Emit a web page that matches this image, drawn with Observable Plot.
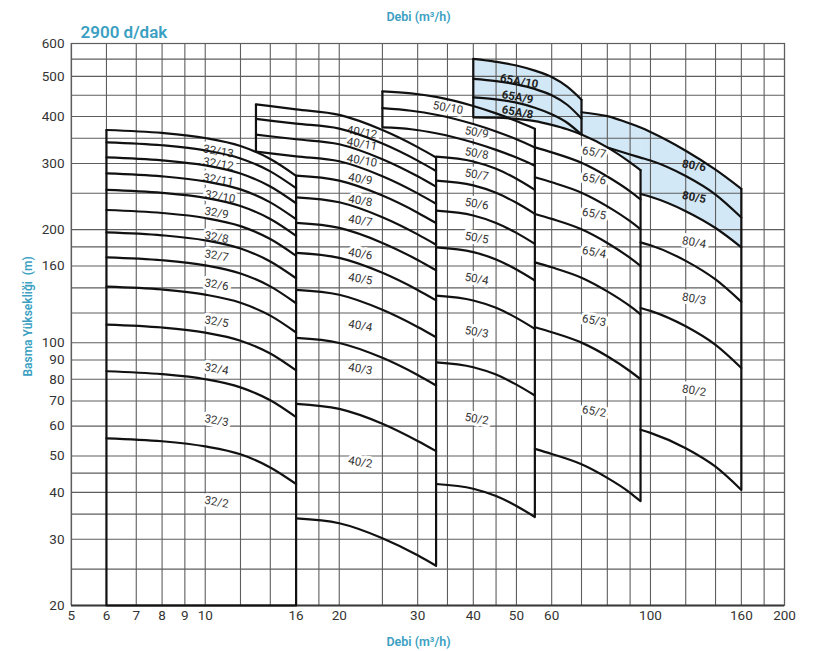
<!DOCTYPE html>
<html><head><meta charset="utf-8">
<script src="https://cdn.jsdelivr.net/npm/d3@7"></script>
<script src="https://cdn.jsdelivr.net/npm/@observablehq/plot@0.6"></script>
<style>body{margin:0;background:#fff}</style>
</head><body><div id="chart"></div>
<script>
// Axis ticks & grid
const xTicks = [5, 6, 7, 8, 9, 10, 16, 20, 30, 40, 50, 60, 100, 160, 200];
const yTicks = [20, 30, 40, 50, 60, 70, 80, 90, 100, 160, 200, 300, 400, 500, 600];
const xGrid = [5, 6, 7, 8, 9, 10, 12, 14, 16, 18, 20, 25, 30, 35, 40, 45, 50, 60, 70, 80, 90, 100, 120, 140, 160, 180, 200];
const yGrid = [20, 25, 30, 35, 40, 45, 50, 60, 70, 80, 90, 100, 120, 140, 160, 180, 200, 250, 300, 350, 400, 450, 500, 550, 600];

// Family 32
const x32 = [6, 8, 10, 12, 14, 16];
const n32 = ["32/base", "32/2", "32/3", "32/4", "32/5", "32/6", "32/7", "32/8", "32/9", "32/10", "32/11", "32/12", "32/13"];
const h32 = [
  [20, null, null, null, null, 20],
  [55.7, 54.7, 53.0, 50.5, 46.6, 42.1],
  [84.0, 82.5, 80.0, 76.1, 70.3, 63.4],
  [111.8, 109.8, 106.4, 101.3, 93.6, 84.4],
  [141.1, 138.6, 134.3, 127.8, 118.1, 106.5],
  [168.8, 165.8, 160.7, 152.9, 141.3, 127.4],
  [196.7, 193.2, 187.3, 178.2, 164.6, 148.5],
  [225.6, 221.5, 214.8, 204.4, 188.8, 170.3],
  [255.1, 250.5, 242.9, 231.1, 213.5, 192.6],
  [282.4, 277.3, 268.8, 255.9, 236.4, 213.2],
  [311.4, 305.8, 296.5, 282.1, 260.6, 235.1],
  [341.5, 335.4, 325.1, 309.4, 285.8, 257.8],
  [368.3, 361.7, 350.6, 333.7, 308.3, 278.1]
];

// Family 40
const x40 = [13, 16, 20, 25, 30, 33];
const n40 = ["40/1", "40/2", "40/3", "40/4", "40/5", "40/6", "40/7", "40/8", "40/9", "40/10", "40/11", "40/12"];
const h40 = [
  [null, 34.1, 33.1, 30.2, 27.2, 25.5],
  [null, 68.8, 66.7, 60.9, 54.8, 51.5],
  [null, 103.0, 99.9, 91.2, 82.1, 77.0],
  [null, 138.3, 134.2, 122.4, 110.2, 103.5],
  [null, 173.4, 168.2, 153.5, 138.2, 129.7],
  [null, 208.4, 202.1, 184.4, 166.1, 155.9],
  [null, 243.8, 236.5, 215.8, 194.3, 182.4],
  [null, 278.4, 270.0, 246.4, 221.9, 208.2],
  [322.4, 313.4, 304.0, 277.4, 249.8, 234.4],
  [357.8, 347.9, 337.5, 307.9, 277.3, 260.2],
  [394.0, 383.0, 371.5, 339.0, 305.3, 286.5],
  [428.0, 416.1, 403.6, 368.2, 331.6, 311.2]
];

// Family 50
const x50 = [25, 29, 33, 40, 45, 50, 55];
const n50 = ["50/1", "50/2", "50/3", "50/4", "50/5", "50/6", "50/7", "50/8", "50/9", "50/10"];
const h50 = [
  [null, null, 42.1, 40.9, 39.1, 36.8, 34.4],
  [null, null, 88.7, 86.1, 82.3, 77.4, 72.4],
  [null, null, 133.5, 129.6, 123.9, 116.5, 108.9],
  [null, null, 179.5, 174.3, 166.6, 156.7, 146.5],
  [null, null, 224.6, 218.1, 208.4, 196.1, 183.3],
  [null, null, 270.0, 262.2, 250.6, 235.7, 220.3],
  [null, null, 312.8, 303.7, 290.3, 273.1, 255.2],
  [374, 370, 361, 341, 326, 311, 296],
  [419, 413, 404, 382, 365, 348, 331],
  [460, 455, 446, 424, 407, 389, 371]
];

// Family 65
const x65 = [55, 60, 70, 80, 90, 95];
const n65 = ["65/1", "65/2", "65/3", "65/4", "65/5", "65/6"];
const h65 = [
  [52.2, 50.6, 47.5, 43.7, 39.9, 37.9],
  [110.0, 106.7, 100.1, 92.1, 84.0, 80.0],
  [163.7, 158.8, 149.0, 137.0, 125.1, 119.0],
  [220.2, 213.6, 200.4, 184.3, 168.2, 160.1],
  [275.6, 267.3, 250.8, 230.7, 210.6, 200.4],
  [331.0, 321.1, 301.2, 277.0, 252.9, 240.6]
];
const x657 = [40, 45, 50, 55, 60, 65, 70, 80, 90, 95];
const h657 = [398, 397, 394, 389, 380, 370, 358, 331, 302, 288];

// Family 65A (shaded)
const x65A = [40, 45, 50, 55, 60, 65, 70];
const n65A = ["65A/8", "65A/9", "65A/10"];
const h65A = [
  [445, 440, 432, 420, 405, 385, 358],
  [493, 487, 478, 466, 450, 427, 395],
  [551, 542, 531, 516, 498, 472, 439]
];

// Family 80
const x80 = [70, 80, 90, 95, 100, 120, 140, 160];
const n80 = ["80/1", "80/2", "80/3", "80/4", "80/5", "80/6"];
const h80 = [
  [null, null, null, 58.7, 57.6, 52.4, 46.8, 40.6],
  [null, null, null, 123.8, 121.6, 110.6, 98.7, 85.7],
  [null, null, null, 185.0, 181.7, 165.2, 147.4, 128.5],
  [null, null, null, 248.8, 244.6, 224.0, 202.0, 179.5],
  [null, 331, 317, 311, 305.4, 277.7, 247.9, 215.4],
  [409.6, 400.7, 383, 373.8, 363.8, 324.4, 288.8, 256.8]
];

// Region labels
const labelNames = ["32/13","32/12","32/11","32/10","32/9","32/8","32/7","32/6","32/5","32/4","32/3","32/2",
  "40/12","40/11","40/10","40/9","40/8","40/7","40/6","40/5","40/4","40/3","40/2",
  "50/10","50/9","50/8","50/7","50/6","50/5","50/4","50/3","50/2",
  "65/7","65/6","65/5","65/4","65/3","65/2",
  "65A/10","65A/9","65A/8",
  "80/6","80/5","80/4","80/3","80/2"];
const labelX = [10.7,10.7,10.7,10.8,10.6,10.6,10.6,10.6,10.6,10.6,10.6,10.6,
  22.5,22.5,22.5,22.3,22.3,22.3,22.3,22.3,22.3,22.3,22.3,
  35.1,40.7,40.7,40.7,40.7,40.7,40.7,40.7,40.7,
  74.7,74.7,74.7,74.7,74.7,74.7,
  50.7,50.3,50.3,
  125.3,125.3,125.3,125.3,125.3];
const labelY = [323.1,299.1,271.2,244.8,221.6,190.8,170.6,142.8,113.8,85.2,62.1,37.7,
  363,338,305.2,272.8,238.9,211.4,172.4,147.9,111.1,85.2,48.1,
  419.8,363,319,280.2,234.1,190.1,147.9,106.7,62.7,
  321,272.8,220.2,174.1,114.6,65.7,
  486.4,445.3,409.6,
  296,243.8,185,130.9,74.6];
const boldLabels = ["65A/10","65A/9","65A/8","80/6","80/5"];

// ---- build series ----
const curves = [];
function addFamily(xs, names, rows) {
  rows.forEach((row, i) => row.forEach((h, j) => { if (h != null) curves.push({name: names[i], x: xs[j], h}); }));
}
addFamily(x32, n32, h32);
addFamily(x40, n40, h40);
addFamily(x50, n50, h50);
addFamily(x65, n65, h65);
addFamily(x657, ["65/7"], [h657]);
addFamily(x65A, n65A, h65A);
addFamily(x80, n80, h80);

// end points -> vertical boundary lines
const groups = d3.groups(curves, d => d.name);
const ends = [];
for (const [name, pts] of groups) { ends.push(pts[0], pts[pts.length - 1]); }
const bounds = d3.groups(ends, d => d.x).map(([x, pts]) => ({x, y1: d3.min(pts, d => d.h), y2: d3.max(pts, d => d.h)})).filter(d => d.y1 < d.y2);

// shaded region
const look = (name) => new Map(curves.filter(d => d.name === name).map(d => [d.x, d.h]));
function seg(id, xs, top, bottom) {
  const T = look(top), B = look(bottom);
  return xs.map(x => ({seg: id, x, y1: B.get(x), y2: T.get(x)}));
}
const shade = [
  ...seg("a", x65A, "65A/10", "65/7"),
  ...seg("b", [70, 80, 90, 95], "80/6", "65/7"),
  ...seg("c", [95, 100, 120, 140, 160], "80/6", "80/4")
];

const labels = labelNames.map((t, i) => ({t, x: labelX[i], y: labelY[i], bold: boldLabels.includes(t)}));

const teal = "#3b9fc2";
const gridColor = "#5e5e5e";
const chart = Plot.plot({
  width: 814, height: 651,
  marginLeft: 71, marginRight: 30, marginTop: 43, marginBottom: 46,
  style: {fontFamily: "Roboto, sans-serif", fontSize: "13px", background: "white", color: "#333"},
  x: {type: "log", domain: [5, 200], range: [70.7, 784], axis: null},
  y: {type: "log", domain: [20, 400, 600], range: [605, 116, 43], axis: null},
  marks: [
    Plot.areaY(shade, {x: "x", y1: "y1", y2: "y2", z: "seg", fill: "#d3e8f6", curve: "monotone-x"}),
    Plot.ruleX(xGrid, {stroke: gridColor, strokeWidth: 1.1}),
    Plot.ruleY(yGrid, {stroke: gridColor, strokeWidth: 1.1}),
    Plot.frame({stroke: gridColor, strokeWidth: 1.2}),
    Plot.ruleY([20], {stroke: "#3a3a3a", strokeWidth: 2}),
    Plot.text(labels.filter(d => !d.bold), {x: "x", y: "y", text: "t", rotate: 10, fontSize: 11.5, fill: "#333", stroke: "white", strokeWidth: 6}),
    Plot.text(labels.filter(d => d.bold), {x: "x", y: "y", text: "t", rotate: 10, fontSize: 11.5, fontWeight: "bold", fill: "#222"}),
    Plot.line(curves, {x: "x", y: "h", z: "name", curve: "monotone-x", stroke: "#111", strokeWidth: 2.2}),
    Plot.ruleX(bounds, {x: "x", y1: "y1", y2: "y2", stroke: "#111", strokeWidth: 2.2}),
    // tick labels
    Plot.text(xTicks, {x: d => d, frameAnchor: "bottom", lineAnchor: "top", textAnchor: "middle", dy: 5, text: d => String(d), fontSize: 13.5, fill: "#333"}),
    Plot.text(yTicks, {y: d => d, frameAnchor: "left", lineAnchor: "middle", textAnchor: "end", dx: -7, text: d => String(d), fontSize: 13.5, fill: "#333"}),
    // titles
    Plot.text(["2900 d/dak"], {frameAnchor: "top-left", dx: 9, dy: -6, lineAnchor: "bottom", textAnchor: "start", fontSize: 17, fontWeight: 600, fill: teal}),
    Plot.text(["Debi (m³/h)"], {frameAnchor: "top", lineAnchor: "middle", textAnchor: "middle", dx: -9.5, dy: -27, fontSize: 12.5, fontWeight: 600, fill: teal}),
    Plot.text(["Debi (m³/h)"], {frameAnchor: "bottom", lineAnchor: "middle", textAnchor: "middle", dx: -9.5, dy: 36, fontSize: 12.5, fontWeight: 600, fill: teal}),
    Plot.text(["Basma Yüksekliği  (m)"], {frameAnchor: "left", lineAnchor: "middle", textAnchor: "middle", dx: -43.5, dy: -8, rotate: -90, fontSize: 12, fontWeight: 600, fill: teal})
  ]
});
document.getElementById("chart").appendChild(chart);
</script>
</body></html>
